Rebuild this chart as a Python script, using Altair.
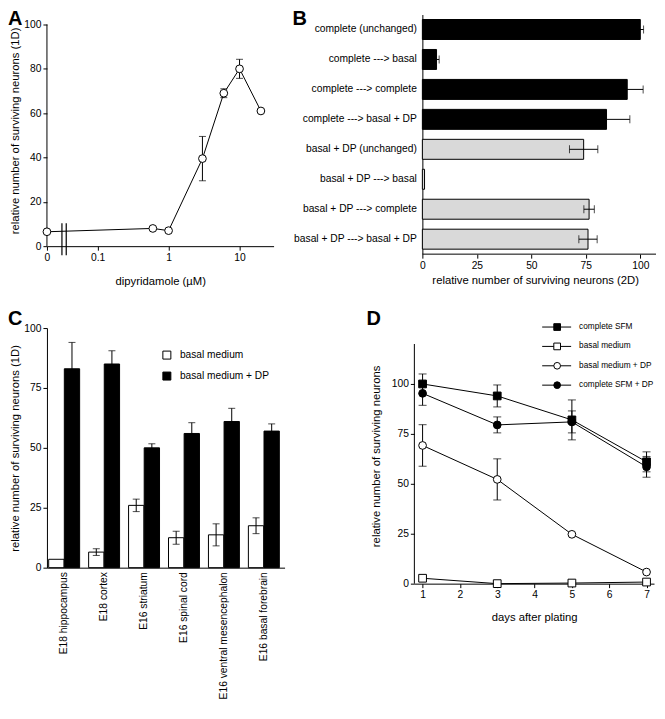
import altair as alt
import pandas as pd

FONT = "Liberation Sans"

# ---------------- Panel A ----------------
a_dose = [0, 0.6, 1, 3, 6, 10, 20]
a_surv = [6.5, 8, 7, 39.5, 69, 80, 61]
a_err = [0, 0, 0, 10, 2, 4.3, 0]
a_yticks = [0, 20, 40, 60, 80, 100]
a_xticks = [0, 0.1, 1, 10]
a_domain = [0.0193, 30.2]      # log-axis extent; the "0" dose sits at the axis origin
a_break = [0.0314, 0.0361]     # axis-break marks

# ---------------- Panel B ----------------
b_cond = ["complete (unchanged)", "complete ---> basal", "complete ---> complete",
          "complete ---> basal + DP", "basal + DP (unchanged)", "basal + DP ---> basal",
          "basal + DP ---> complete", "basal + DP ---> basal + DP"]
b_group = ["complete"] * 4 + ["basal + DP"] * 4
b_mean = [100, 6.5, 94, 84.5, 74, 1, 76.5, 76]
b_err = [1.5, 1.2, 7.3, 10.7, 6.5, 0, 2.4, 4.2]
b_xticks = [0, 25, 50, 75, 100]
b_domain = [-3.667, 107.2]

# ---------------- Panel C ----------------
c_region = ["E18 hippocampus", "E18 cortex", "E16 striatum", "E16 spinal cord",
            "E16 ventral mesencephalon", "E16 basal forebrain"]
c_cond = ["basal medium", "basal medium + DP"]
c_basal = [3.5, 6.5, 26, 12.5, 13.7, 17.5]
c_basal_err = [0, 1.4, 2.6, 2.7, 4.6, 3.3]
c_dp = [83, 85, 50, 56, 61, 57]
c_dp_err = [11, 5.5, 1.7, 4.5, 5.5, 3]
c_yticks = [0, 25, 50, 75, 100]

# ---------------- Panel D ----------------
d_days = [1, 3, 5, 7]
d_series = ["complete SFM", "basal medium", "basal medium + DP", "complete SFM + DP"]
d_complete = [100, 94, 82, 61]
d_complete_err = [5, 5.5, 10, 5]
d_basal = [2.7, 0, 0.3, 0.8]
d_basal_err = [0, 0, 0, 0]
d_basal_dp = [69.2, 52.2, 24.7, 5.8]
d_basal_dp_err = [10.4, 10.3, 0, 0]
d_complete_dp = [95.3, 79.5, 81, 58.5]
d_complete_dp_err = [6, 4, 5.5, 5.2]
d_xticks = [1, 2, 3, 4, 5, 6, 7]
d_yticks = [0, 25, 50, 75, 100]
d_shapes = ["square", "square", "circle", "circle"]
d_fills = ["black", "white", "white", "black"]


def letter(t, x, y):
    return alt.Chart(pd.DataFrame({"t": [t]})).mark_text(
        fontSize=20, fontWeight="bold", align="left", baseline="top", font=FONT, color="black"
    ).encode(text="t:N", x=alt.value(x), y=alt.value(y))


# ================= A =================
dfA = pd.DataFrame({"dose": a_dose, "surv": a_surv, "err": a_err})
dfA["xpos"] = dfA["dose"].where(dfA["dose"] > 0, a_domain[0])
dfA["lo"] = dfA["surv"] - dfA["err"]
dfA["hi"] = dfA["surv"] + dfA["err"]
dfA_err = dfA[dfA["err"] > 0]

a_tickpos = [t if t > 0 else a_domain[0] for t in a_xticks]
axAx = alt.Axis(values=a_tickpos, title="dipyridamole (µM)", titlePadding=13,
                labelExpr="datum.value < 0.05 ? '0' : format(datum.value, '~g')")
axAy = alt.Axis(values=a_yticks, title="relative number of surviving neurons (1D)",
                titlePadding=3, domain=False)
scAx = alt.Scale(type="log", domain=a_domain, nice=False)
scAy = alt.Scale(domain=[0, 104.5], nice=False)


def xA(f):
    return alt.X(f, type="quantitative", scale=scAx, axis=axAx)


def yA(f):
    return alt.Y(f, type="quantitative", scale=scAy, axis=axAy)


yaxA = alt.Chart(pd.DataFrame({"a": [0], "b": [100]})).mark_rule(color="black", strokeWidth=1).encode(
    x=alt.value(0), y=yA("a"), y2="b")
lineA = alt.Chart(dfA).mark_line(color="black", strokeWidth=1).encode(x=xA("xpos"), y=yA("surv"))
errA = alt.Chart(dfA_err).mark_rule(color="black", strokeWidth=1).encode(
    x=xA("xpos"), y=yA("lo"), y2="hi")
capA = alt.Chart(dfA_err).transform_fold(["lo", "hi"], as_=["end", "v"]).mark_tick(
    orient="horizontal", size=7, thickness=1, color="black").encode(x=xA("xpos"), y=yA("v"))
ptsA = alt.Chart(dfA).mark_point(filled=True, fill="white", stroke="black", strokeWidth=1,
                                 size=60, opacity=1).encode(x=xA("xpos"), y=yA("surv"))
brkA = alt.Chart(pd.DataFrame({"b": a_break})).mark_rule(color="black", strokeWidth=1.2).encode(
    x=xA("b"), y=alt.value(209), y2=alt.value(241))
chartA = alt.layer(yaxA, lineA, errA, capA, ptsA, brkA, letter("A", -39, -6)).properties(
    width=227, height=232)

# ================= B =================
dfB = pd.DataFrame({"cond": b_cond, "group": b_group, "mean": b_mean, "err": b_err})
dfB["lo"] = dfB["mean"] - dfB["err"]
dfB["hi"] = dfB["mean"] + dfB["err"]
dfB_err = dfB[dfB["err"] > 0]

yB = alt.Y("cond:N", sort=b_cond, scale=alt.Scale(paddingInner=1 / 3, paddingOuter=1 / 6),
           axis=alt.Axis(title=None, ticks=False, labelPadding=6, labelLimit=250, offset=-8))
scBx = alt.Scale(domain=b_domain, nice=False)
axBx = alt.Axis(values=b_xticks, title="relative number of surviving neurons (2D)",
                titlePadding=4, domain=False)


def xB(f):
    return alt.X(f, type="quantitative", scale=scBx, axis=axBx)


xaxB = alt.Chart(pd.DataFrame({"a": [0], "b": [b_domain[1]]})).mark_rule(
    color="black", strokeWidth=1).encode(x=xB("a"), x2="b", y=alt.value(240))
barsB = alt.Chart(dfB).mark_bar(stroke="black", strokeWidth=1).encode(
    x=xB("mean"), y=yB,
    fill=alt.Fill("group:N", scale=alt.Scale(domain=["complete", "basal + DP"],
                                             range=["black", "#d9d9d9"]), legend=None))
errB = alt.Chart(dfB_err).mark_rule(color="black", strokeWidth=1).encode(x=xB("lo"), x2="hi", y=yB)
capB = alt.Chart(dfB_err).transform_fold(["lo", "hi"], as_=["end", "v"]).mark_tick(
    size=8, thickness=1, color="black").encode(x=xB("v"), y=yB)
chartB = alt.layer(barsB, errB, capB, xaxB, letter("B", -122, -6)).properties(width=242, height=240)

# ================= C =================
rows = []
for i, r in enumerate(c_region):
    rows.append({"region": r, "cond": c_cond[0], "val": c_basal[i], "err": c_basal_err[i]})
    rows.append({"region": r, "cond": c_cond[1], "val": c_dp[i], "err": c_dp_err[i]})
dfC = pd.DataFrame(rows)
dfC["lo"] = dfC["val"] - dfC["err"]
dfC["hi"] = dfC["val"] + dfC["err"]
dfC_err = dfC[dfC["err"] > 0]

xC = alt.X("region:N", sort=c_region,
           scale=alt.Scale(paddingInner=0.225, paddingOuter=0.0875, align=0.25),
           axis=alt.Axis(title=None, labelAngle=-90, ticks=False, labelPadding=4, labelLimit=300))
offC = alt.XOffset("cond:N", sort=c_cond, scale=alt.Scale(paddingInner=0.02))
scCy = alt.Scale(domain=[0, 100], nice=False)
axCy = alt.Axis(values=c_yticks, title="relative number of surviving neurons (1D)", titlePadding=3)


def yC(f):
    return alt.Y(f, type="quantitative", scale=scCy, axis=axCy)


barsC = alt.Chart(dfC).mark_bar(stroke="black", strokeWidth=1).encode(
    x=xC, xOffset=offC, y=yC("val"),
    fill=alt.Fill("cond:N", scale=alt.Scale(domain=c_cond, range=["white", "black"]),
                  legend=alt.Legend(orient="none", legendX=115, legendY=22, title=None,
                                    symbolType="square", symbolSize=64, symbolStrokeColor="black",
                                    symbolStrokeWidth=1, labelFontSize=10.2, labelFont=FONT,
                                    labelColor="black", rowPadding=8, labelOffset=8, padding=0)))
errC = alt.Chart(dfC_err).mark_rule(color="black", strokeWidth=1).encode(
    x=xC, xOffset=offC, y=yC("lo"), y2="hi")
capC = alt.Chart(dfC_err).transform_fold(["lo", "hi"], as_=["end", "v"]).mark_tick(
    size=7, thickness=1, color="black").encode(x=xC, xOffset=offC, y=yC("v"))
chartC = alt.layer(barsC, errC, capC, letter("C", -39, -19)).properties(width=238, height=240)

# ================= D =================
series_vals = [(d_complete, d_complete_err), (d_basal, d_basal_err),
               (d_basal_dp, d_basal_dp_err), (d_complete_dp, d_complete_dp_err)]
rows = []
for s, (vals, errs) in zip(d_series, series_vals):
    for d, v, e in zip(d_days, vals, errs):
        rows.append({"series": s, "day": d, "val": v, "err": e})
dfD = pd.DataFrame(rows)
dfD["lo"] = dfD["val"] - dfD["err"]
dfD["hi"] = dfD["val"] + dfD["err"]
dfD_err = dfD[dfD["err"] > 0]

scDx = alt.Scale(domain=[0.78, 7.2], nice=False)
axDx = alt.Axis(values=d_xticks, format="d", title="days after plating", titlePadding=12)
scDy = alt.Scale(domain=[0, 128], nice=False)
axDy = alt.Axis(values=d_yticks, title="relative number of surviving neurons", titlePadding=10,
                domain=False)


def xD(f):
    return alt.X(f, type="quantitative", scale=scDx, axis=axDx)


def yD(f):
    return alt.Y(f, type="quantitative", scale=scDy, axis=axDy)


yaxD = alt.Chart(pd.DataFrame({"a": [0], "b": [120]})).mark_rule(color="black", strokeWidth=1).encode(
    x=alt.value(0), y=yD("a"), y2="b")
lineD = alt.Chart(dfD).mark_line(color="black", strokeWidth=1).encode(
    x=xD("day"), y=yD("val"), detail="series:N")
errD = alt.Chart(dfD_err).mark_rule(color="black", strokeWidth=1).encode(
    x=xD("day"), y=yD("lo"), y2="hi")
capD = alt.Chart(dfD_err).transform_fold(["lo", "hi"], as_=["end", "v"]).mark_tick(
    orient="horizontal", size=8, thickness=1, color="black").encode(x=xD("day"), y=yD("v"))
ptsD = alt.Chart(dfD).mark_point(filled=True, stroke="black", strokeWidth=1, size=60, opacity=1).encode(
    x=xD("day"), y=yD("val"),
    shape=alt.Shape("series:N", scale=alt.Scale(domain=d_series, range=d_shapes), legend=None),
    fill=alt.Fill("series:N", scale=alt.Scale(domain=d_series, range=d_fills), legend=None))

legD = []
for i, s in enumerate(d_series):
    yy = -1 + i * 19.4
    one = pd.DataFrame({"label": [s]})
    legD.append(alt.Chart(one).mark_rule(color="black", strokeWidth=1).encode(
        x=alt.value(128), x2=alt.value(157), y=alt.value(yy)))
    legD.append(alt.Chart(one).mark_point(filled=True, shape=d_shapes[i], fill=d_fills[i],
                                          stroke="black", strokeWidth=1, size=45, opacity=1).encode(
        x=alt.value(143), y=alt.value(yy)))
    legD.append(alt.Chart(one).mark_text(align="left", baseline="middle", fontSize=8.3, font=FONT,
                                         color="black").encode(
        text="label:N", x=alt.value(165), y=alt.value(yy)))

chartD = alt.layer(yaxD, lineD, errD, capD, ptsD, *legD, letter("D", -48, -19)).properties(
    width=240, height=256)

# ================= layout: 2 x 2 grid =================
chart = alt.concat(chartA, chartB, chartC, chartD, columns=2,
                   spacing={"row": 74, "column": 130}, align="each", bounds="flush").resolve_scale(
    fill="independent", shape="independent"
).properties(padding=0, background="white").configure_view(stroke=None).configure_axis(
    labelFont=FONT, titleFont=FONT, labelFontSize=10.3, titleFontSize=11.3,
    labelColor="black", titleColor="black", domainColor="black", tickColor="black",
    tickSize=4, domainWidth=1, tickWidth=1, titleFontWeight="normal", grid=False,
    labelPadding=2, labelOverlap=False
).configure_axisX(labelFlush=False)

chart.save("out.html", embed_options={"renderer": "svg", "actions": False})
